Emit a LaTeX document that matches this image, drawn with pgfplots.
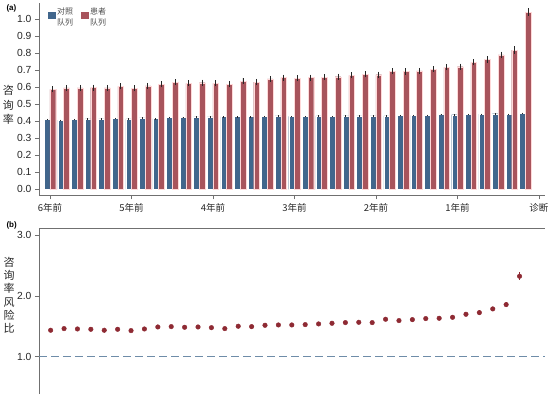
\documentclass[border=0pt]{standalone}
\usepackage{pgfplots}
\usepackage{pgfplotstable}
\pgfplotsset{compat=1.18}
\usepackage{fontspec}
\setmainfont{Liberation Sans}
\newfontfamily\cjk{Noto Sans CJK SC}
\definecolor{barblue}{HTML}{41668C}
\definecolor{barred}{HTML}{A8545C}
\definecolor{ptred}{HTML}{8E2A33}
\definecolor{dashblue}{HTML}{6E8CA8}
\definecolor{axgray}{HTML}{707070}

\pgfplotstableread{
x ctrl cerr pat perr
0 0.411 0.003 0.587 0.018
1 0.407 0.003 0.595 0.018
2 0.411 0.003 0.595 0.018
3 0.413 0.003 0.597 0.018
4 0.413 0.003 0.595 0.018
5 0.417 0.003 0.605 0.018
6 0.413 0.003 0.593 0.018
7 0.419 0.003 0.607 0.018
8 0.415 0.003 0.616 0.018
9 0.423 0.003 0.628 0.018
10 0.423 0.003 0.622 0.018
11 0.425 0.003 0.626 0.018
12 0.425 0.003 0.622 0.018
13 0.427 0.003 0.618 0.018
14 0.427 0.003 0.636 0.018
15 0.427 0.003 0.630 0.018
16 0.429 0.003 0.648 0.018
17 0.431 0.003 0.656 0.018
18 0.429 0.003 0.652 0.018
19 0.429 0.003 0.656 0.018
20 0.431 0.003 0.659 0.018
21 0.429 0.003 0.661 0.018
22 0.431 0.003 0.669 0.018
23 0.432 0.003 0.675 0.018
24 0.432 0.003 0.673 0.018
25 0.431 0.003 0.693 0.018
26 0.434 0.003 0.692 0.018
27 0.434 0.003 0.695 0.018
28 0.436 0.003 0.706 0.018
29 0.440 0.003 0.716 0.018
30 0.438 0.003 0.720 0.018
31 0.440 0.003 0.746 0.018
32 0.442 0.003 0.763 0.019
33 0.444 0.003 0.789 0.020
34 0.442 0.003 0.818 0.021
35 0.448 0.003 1.041 0.023
}\bardata

\pgfplotstableread{
x hr err
0 1.434 0.030
1 1.461 0.030
2 1.455 0.030
3 1.450 0.030
4 1.434 0.030
5 1.450 0.030
6 1.428 0.030
7 1.455 0.030
8 1.488 0.030
9 1.494 0.030
10 1.483 0.030
11 1.488 0.030
12 1.477 0.030
13 1.461 0.030
14 1.500 0.030
15 1.494 0.030
16 1.516 0.030
17 1.521 0.030
18 1.521 0.030
19 1.527 0.030
20 1.538 0.030
21 1.549 0.030
22 1.560 0.030
23 1.565 0.030
24 1.560 0.030
25 1.615 0.030
26 1.593 0.030
27 1.609 0.030
28 1.626 0.030
29 1.631 0.030
30 1.647 0.032
31 1.697 0.033
32 1.724 0.035
33 1.785 0.038
34 1.856 0.042
35 2.322 0.070
}\hrdata

\begin{document}
\begin{tikzpicture}
\useasboundingbox (0pt,0pt) rectangle (560pt,394pt);
\begin{axis}[
  at={(39pt,198.7pt)}, anchor=south west,
  scale only axis, width=506pt, height=192.3pt,
  xmin=-0.81, xmax=36.45, ymin=-0.035, ymax=1.094,
  axis x line*=bottom, axis y line*=left,
  axis line style={axgray, line width=0.8pt},
  tick style={axgray, line width=0.6pt}, major tick length=4pt, tick align=outside,
  xtick={0,6,12,18,24,30,36},
  xticklabels={6年前,5年前,4年前,3年前,2年前,1年前,诊断},
  x tick label style={font=\cjk\fontsize{9.5}{10}\selectfont, text=black!85, yshift=-1pt},
  ytick={0,0.1,0.2,0.3,0.4,0.5,0.6,0.7,0.8,0.9,1.0},
  /pgf/number format/assume math mode=true,
  yticklabel style={font=\fontsize{10.3}{12}\selectfont, text=black!85,
    /pgf/number format/fixed, /pgf/number format/fixed zerofill, /pgf/number format/precision=1},
  ylabel={咨\\询\\率},
  ylabel style={rotate=-90, align=center, font=\cjk\fontsize{11}{14.4}\selectfont, text=black!85,
    at={(axis description cs:-0.0603,0.47)}, anchor=center},
  legend style={at={(axis description cs:0.012,0.995)}, anchor=north west, draw=none, fill=none,
    legend columns=2, font=\cjk\fontsize{8}{8}\selectfont, text=black!70,
    /tikz/every even column/.append style={column sep=6pt}},
  legend cell align=left,
]
\addlegendimage{legend image code/.code={\fill[barblue] (0pt,-1pt) rectangle (6.5pt,5pt);}}
\addlegendentry{\shortstack[l]{对照\\队列}}
\addlegendimage{legend image code/.code={\fill[barred] (0pt,-1pt) rectangle (6.5pt,5pt);}}
\addlegendentry{\shortstack[l]{患者\\队列}}
\addplot[ybar, forget plot, bar width=0.42, bar shift=0pt, fill=barblue, draw=white, line width=0.4pt,
  error bars/.cd, y dir=both, y explicit, error mark=none,
  error bar style={black!85, line width=0.9pt}]
  table[x expr=\thisrow{x}-0.21, y=ctrl, y error=cerr]{\bardata};
\addplot[ybar, forget plot, bar width=0.42, bar shift=0pt, fill=barred, draw=red!15, line width=0.4pt,
  error bars/.cd, y dir=both, y explicit, error mark=none,
  error bar style={black!85, line width=0.9pt}]
  table[x expr=\thisrow{x}+0.21, y=pat, y error=perr]{\bardata};
\end{axis}

\begin{axis}[
  at={(39pt,0pt)}, anchor=south west,
  scale only axis, width=506pt, height=165.7pt,
  xmin=-0.87, xmax=36.9, ymin=0.386, ymax=3.11,
  axis x line*=top, axis y line*=left,
  axis line style={axgray, line width=0.8pt},
  tick style={axgray, line width=0.6pt}, major tick length=4pt, tick align=outside,
  xtick=\empty,
  ytick={1,2,3},
  /pgf/number format/assume math mode=true,
  yticklabel style={font=\fontsize{10.3}{12}\selectfont, text=black!85,
    /pgf/number format/fixed, /pgf/number format/fixed zerofill, /pgf/number format/precision=1},
  ylabel={咨\\询\\率\\风\\险\\比},
  ylabel style={rotate=-90, align=center, font=\cjk\fontsize{11}{13.1}\selectfont, text=black!85,
    at={(axis description cs:-0.059,0.596)}, anchor=center},
]
\addplot[dashblue, line width=1.2pt, dash pattern=on 8pt off 4pt] coordinates {(-0.87,1) (36.9,1)};
\addplot[only marks, mark=*, mark size=2.3pt, color=ptred,
  error bars/.cd, y dir=both, y explicit, error mark=none,
  error bar style={ptred, line width=1pt}]
  table[x=x, y=hr, y error=err]{\hrdata};
\end{axis}

\node[font=\bfseries\fontsize{8}{9}\selectfont, anchor=west] at (3pt,386pt) {(a)};
\node[font=\bfseries\fontsize{8}{9}\selectfont, anchor=west] at (3pt,169pt) {(b)};
\end{tikzpicture}
\end{document}
